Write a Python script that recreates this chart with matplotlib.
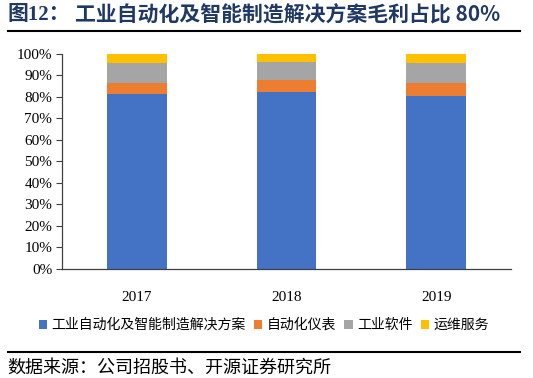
import matplotlib.pyplot as plt
from matplotlib.lines import Line2D
from matplotlib.patches import Patch
from matplotlib.ticker import PercentFormatter

plt.rcParams['font.family'] = ['Liberation Serif', 'Noto Sans CJK SC', 'DejaVu Sans']

years = ['2017', '2018', '2019']
series_names = ['工业自动化及智能制造解决方案', '自动化仪表', '工业软件', '运维服务']
solution = [81.5, 82.5, 80.5]   # share of gross profit, %
meters = [5.0, 5.5, 6.0]
software = [9.2, 8.2, 9.5]
service = [4.3, 3.8, 4.0]
colors = ['#4472C4', '#ED7D31', '#A5A5A5', '#FFC000']

fig = plt.figure(figsize=(5.33, 3.78), dpi=100)
ax = fig.add_axes([0.1163, 0.2884, 0.8424, 0.5688])

x = range(len(years))
bottom = [0, 0, 0]
for vals, c in zip([solution, meters, software, service], colors):
    ax.bar(x, vals, width=0.4, bottom=bottom, color=c)
    bottom = [b + v for b, v in zip(bottom, vals)]

ax.set_xlim(-0.5, 2.5)
ax.set_ylim(0, 100)
ax.set_yticks(range(0, 101, 10))
ax.yaxis.set_major_formatter(PercentFormatter(decimals=0))
ax.set_xticks(list(x))
ax.set_xticklabels(years)
ax.tick_params(axis='y', length=4, width=0.8, labelsize=11, pad=3, color='#404040')
ax.tick_params(axis='x', length=0, labelsize=11, pad=16)
for s in ['top', 'right']:
    ax.spines[s].set_visible(False)
for s in ['left', 'bottom']:
    ax.spines[s].set_color('#404040')
    ax.spines[s].set_linewidth(0.9)

handles = [Patch(facecolor=c, edgecolor='none') for c in colors]
fig.legend(handles, series_names, loc='center', bbox_to_anchor=(0.495, 0.14), ncol=4,
           frameon=False, handlelength=0.6, handleheight=0.6, handletextpad=0.3,
           columnspacing=0.6, prop={'family': ['Noto Sans CJK SC'], 'size': 10})

fig.text(0.015, 0.96, '图12：', fontsize=15, fontweight='bold', color='#1F3864',
         va='center', ha='left', family=['Liberation Serif', 'Noto Sans CJK SC'])
fig.text(0.14, 0.96, '工业自动化及智能制造解决方案毛利占比 80%', fontsize=15,
         fontweight='bold', color='#1F3864', va='center', ha='left',
         family=['Noto Sans CJK SC', 'DejaVu Sans'])
fig.add_artist(Line2D([0.015, 0.975], [0.918, 0.918], color='black', lw=1.5))
fig.add_artist(Line2D([0.015, 0.975], [0.069, 0.069], color='black', lw=1.5))
fig.text(0.013, 0.027, '数据来源：公司招股书、开源证券研究所', fontsize=13,
         va='center', ha='left', family=['Noto Sans CJK SC'])

fig.savefig('out.png', dpi=100)
